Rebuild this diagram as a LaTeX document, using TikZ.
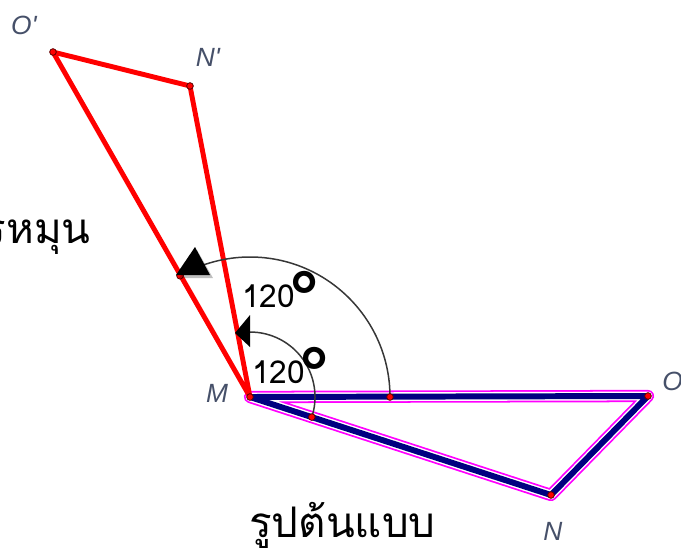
\documentclass[tikz,border=0pt]{standalone}
\usepackage{fontspec}
\setmainfont{Liberation Sans}
\newfontfamily\thaifont[Script=Thai]{Loma}
\usetikzlibrary{calc}

\definecolor{imgred}{RGB}{255,0,0}
\definecolor{imgnavy}{RGB}{0,0,128}
\definecolor{imgpink}{RGB}{255,0,255}
\definecolor{lblgray}{RGB}{70,80,105}
\definecolor{arcgray}{RGB}{55,55,55}
\definecolor{dotrim}{RGB}{90,0,0}

\newcommand{\degmark}{\kern-2.5pt\raisebox{-5pt}{\fontsize{34}{34}\selectfont °}}

\begin{document}
\begin{tikzpicture}[
    x=0.02cm, y=0.02cm,
    imageside/.style={draw=imgred, line width=2.8pt, line join=round},
    pinkrim/.style={draw=imgpink, line width=7.0pt, line join=round},
    whiterim/.style={draw=white, line width=5.0pt, line join=round},
    navyside/.style={draw=imgnavy, line width=3.4pt, line join=round},
    turnarc/.style={draw=arcgray, line width=0.85pt},
    tip/.style={fill=black},
    vtx/.style={circle, fill=imgred, draw=dotrim, line width=0.45pt, inner sep=0pt, minimum size=3.8pt},
    ptlabel/.style={font=\fontsize{15}{15}\selectfont\itshape, text=lblgray, inner sep=0pt},
    deglabel/.style={font=\thaifont\fontsize{18}{18}\selectfont, inner sep=0pt, anchor=base west},
    thailabel/.style={font=\thaifont\fontsize{24}{28}\selectfont, inner sep=0pt},
]
\useasboundingbox (0,0) rectangle (681,-555);

% triangle corners
\coordinate (M) at (250,-397);
\coordinate (O) at (648,-396);
\coordinate (N) at (551,-495);
\coordinate (O2) at (53,-52);
\coordinate (N2) at (190,-86);

% marks of the turning angle on the sides
\coordinate (bigA) at ($(M)+(0:140)$);
\coordinate (bigB) at ($(M)+(120:140)$);
\coordinate (smallA) at ($(M)+(-18:65)$);
\coordinate (smallB) at ($(M)+(102:65)$);

% original shape
\draw[pinkrim] (M) -- (O) -- (N) -- cycle;
\draw[whiterim] (M) -- (O) -- (N) -- cycle;
\draw[navyside] (M) -- (O) -- (N) -- cycle;

% rotated shape
\draw[imageside] (M) -- (O2) -- (N2) -- cycle;

% angle arcs
\draw[turnarc] (bigA) arc[start angle=0, end angle=120, radius=140];
\draw[turnarc] (smallA) arc[start angle=-18, end angle=102, radius=65];

% points
\foreach \p in {M,O,N,O2,N2,bigA,bigB,smallA}
  \node[vtx] at (\p) {};

% arrow heads
\fill[black, opacity=0.25] (197,-250) -- (179,-278) -- (213,-278) -- cycle;
\fill[tip] (195,-247) -- (176,-275) -- (210,-275) -- cycle;
\fill[tip] (235,-333) -- (250,-315) -- (250,-347) -- cycle;

% angle values
\node[deglabel] (bigdeg) at (242,-307) {120\degmark};
\node[deglabel] (smalldeg) at (252,-383) {120\degmark};

% point names
\node[ptlabel] (lO2) at (24,-25) {O\textquotesingle};
\node[ptlabel] (lN2) at (208,-57) {N\textquotesingle};
\node[ptlabel] (lM) at (217,-393) {M};
\node[ptlabel, anchor=west] (lO) at (662,-381) {O};
\node[ptlabel] (lN) at (553,-531) {N};

% captions
\node[thailabel, anchor=base east] (rotcap) at (91,-243) {รหมุน};
\node[thailabel, anchor=base west] (origcap) at (249,-537) {รูปต้นแบบ};
\end{tikzpicture}
\end{document}
